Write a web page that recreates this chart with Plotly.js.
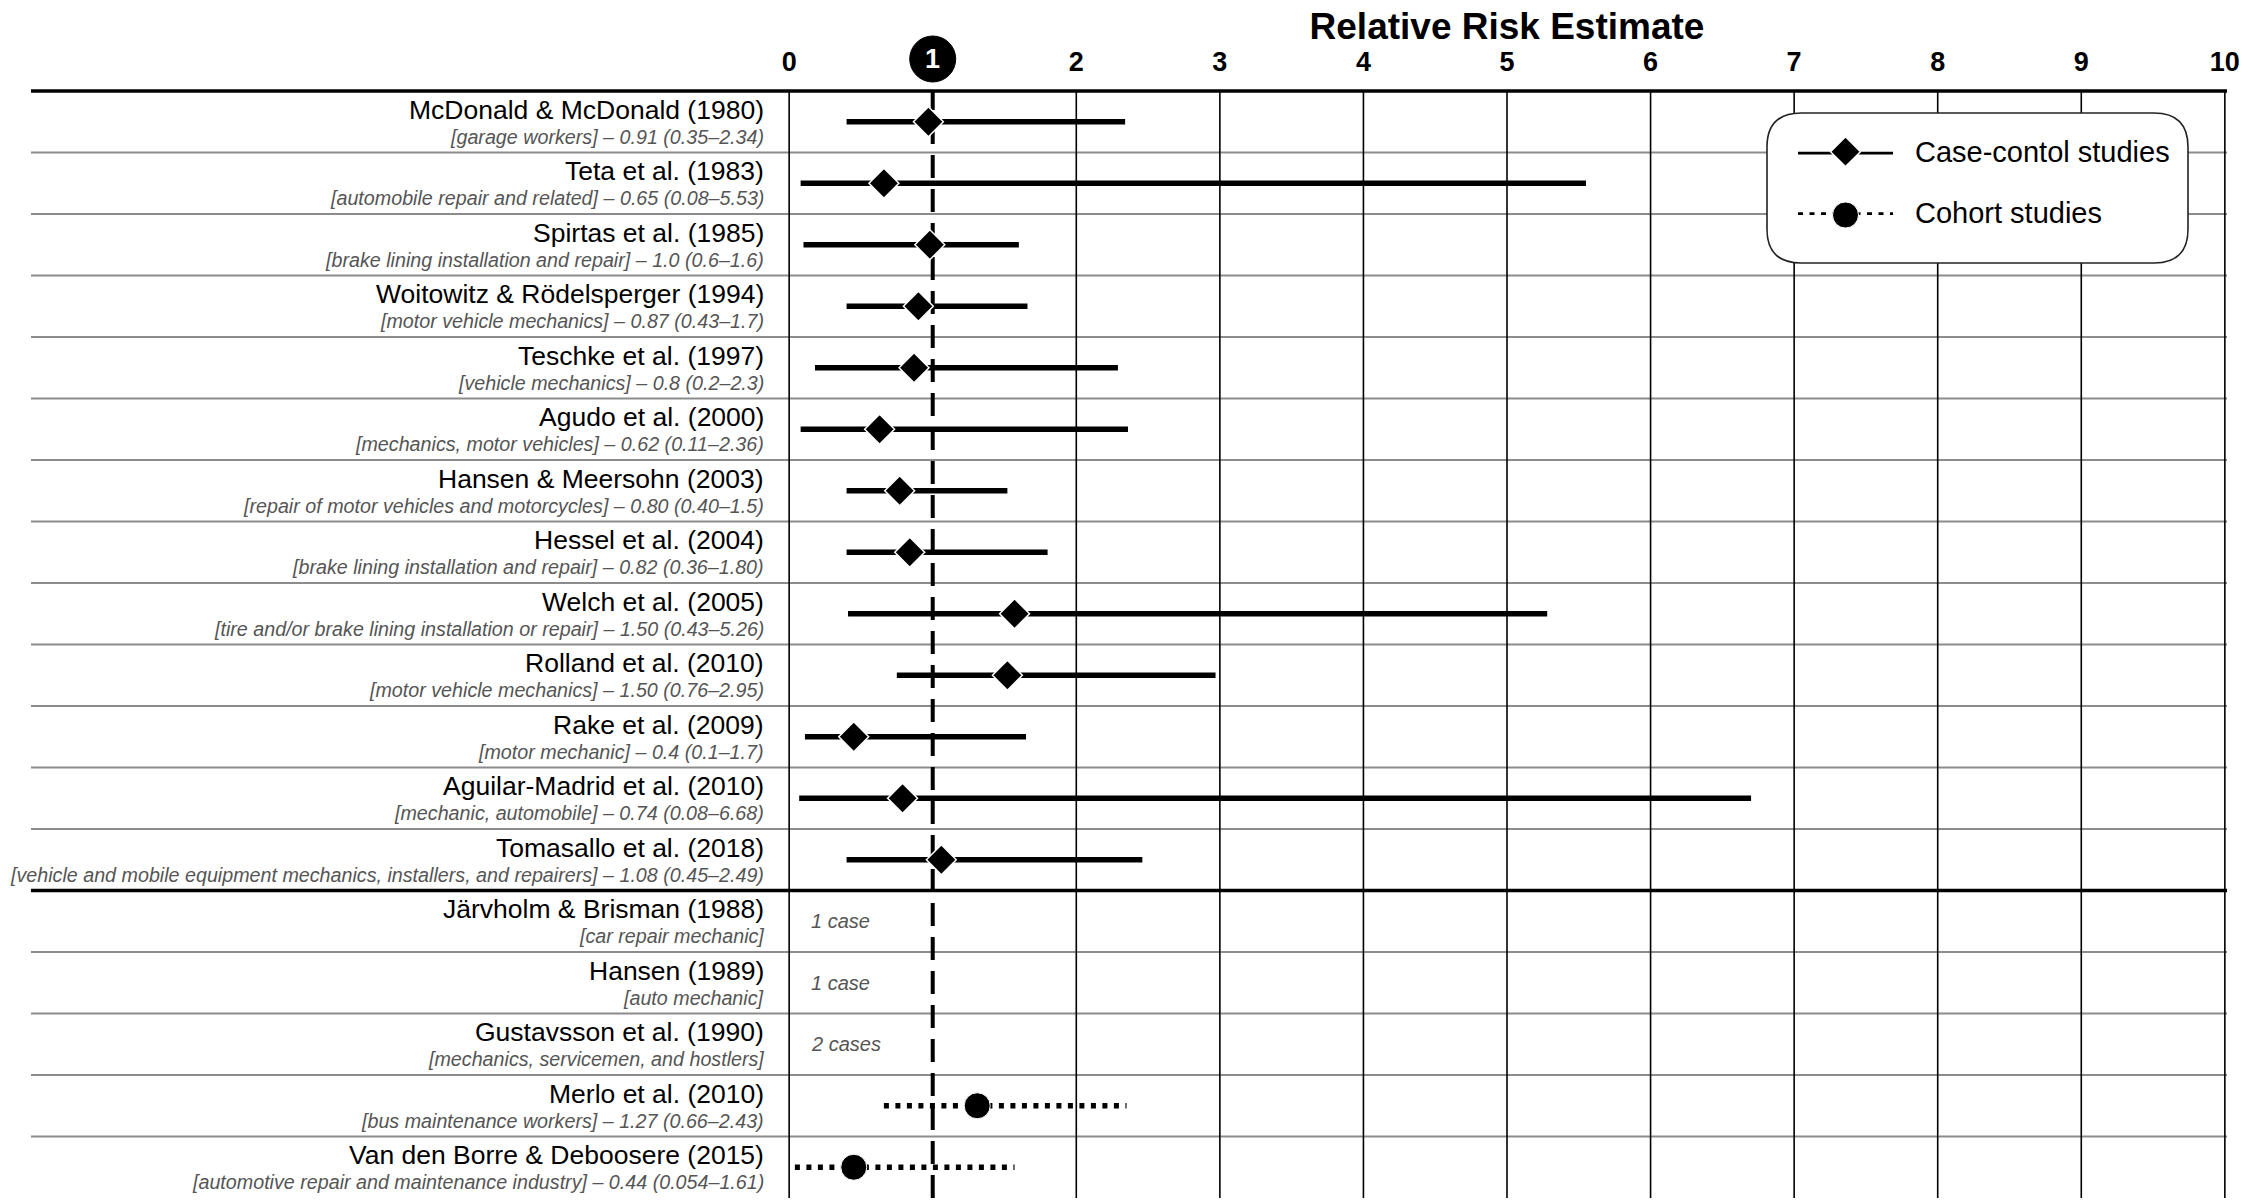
<!DOCTYPE html>
<html><head><meta charset="utf-8">
<script src="https://cdn.plot.ly/plotly-3.0.1.min.js"></script>
<style>html,body{margin:0;padding:0;background:#fff;overflow:hidden}</style>
</head><body><div id="chart" style="width:2267px;height:1200px"></div>
<script>
// ---------------- data ----------------
const studyNames = [
  "McDonald & McDonald (1980)",
  "Teta et al. (1983)",
  "Spirtas et al. (1985)",
  "Woitowitz & Rödelsperger (1994)",
  "Teschke et al. (1997)",
  "Agudo et al. (2000)",
  "Hansen & Meersohn (2003)",
  "Hessel et al. (2004)",
  "Welch et al. (2005)",
  "Rolland et al. (2010)",
  "Rake et al. (2009)",
  "Aguilar-Madrid et al. (2010)",
  "Tomasallo et al. (2018)",
  "Järvholm & Brisman (1988)",
  "Hansen (1989)",
  "Gustavsson et al. (1990)",
  "Merlo et al. (2010)",
  "Van den Borre & Deboosere (2015)"
];
const studyDetails = [
  "[garage workers] – 0.91 (0.35–2.34)",
  "[automobile repair and related] – 0.65 (0.08–5.53)",
  "[brake lining installation and repair] – 1.0 (0.6–1.6)",
  "[motor vehicle mechanics] – 0.87 (0.43–1.7)",
  "[vehicle mechanics] – 0.8 (0.2–2.3)",
  "[mechanics, motor vehicles] – 0.62 (0.11–2.36)",
  "[repair of motor vehicles and motorcycles] – 0.80 (0.40–1.5)",
  "[brake lining installation and repair] – 0.82 (0.36–1.80)",
  "[tire and/or brake lining installation or repair] – 1.50 (0.43–5.26)",
  "[motor vehicle mechanics] – 1.50 (0.76–2.95)",
  "[motor mechanic] – 0.4 (0.1–1.7)",
  "[mechanic, automobile] – 0.74 (0.08–6.68)",
  "[vehicle and mobile equipment mechanics, installers, and repairers] – 1.08 (0.45–2.49)",
  "[car repair mechanic]",
  "[auto mechanic]",
  "[mechanics, servicemen, and hostlers]",
  "[bus maintenance workers] – 1.27 (0.66–2.43)",
  "[automotive repair and maintenance industry] – 0.44 (0.054–1.61)"
];
// case-control studies (rows 0..12)
const ccRows  = [0, 1, 2, 3, 4, 5, 6, 7, 8, 9, 10, 11, 12];
const ccEst   = [0.97, 0.66, 0.98, 0.90, 0.87, 0.63, 0.77, 0.84, 1.57, 1.52, 0.45, 0.79, 1.06];
const ccLow   = [0.40, 0.08, 0.10, 0.40, 0.18, 0.08, 0.40, 0.40, 0.41, 0.75, 0.11, 0.07, 0.40];
const ccHigh  = [2.34, 5.55, 1.60, 1.66, 2.29, 2.36, 1.52, 1.80, 5.28, 2.97, 1.65, 6.70, 2.46];
// cohort studies
const cohortRows = [16, 17];
const cohortEst  = [1.31, 0.45];
const cohortLow  = [0.66, 0.04];
const cohortHigh = [2.35, 1.57];
// studies with only case counts
const noteRows = [13, 14, 15];
const noteText = ["1 case", "1 case", "2 cases"];
const noteX = 0.14;
// axis
const xTickVals = [0, 2, 3, 4, 5, 6, 7, 8, 9, 10];
const xTickText = ["0", "2", "3", "4", "5", "6", "7", "8", "9", "10"];
const refValue = 1;
const groupSplitAfterRow = 12;
const legendLabels = ["Case-contol studies", "Cohort studies"];

// ---------------- layout constants ----------------
const W = 2267, H = 1200;
const ML = 787, MR = 40, MT = 91, MB = 2;
const PW = W - ML - MR, PH = H - MT - MB;
const px2paperX = px => (px - ML) / PW;
const px2paperY = py => (H - MB - py) / PH;
const FONT = "Liberation Sans, Arial, Helvetica, sans-serif";
const nRows = studyNames.length;
const SOLID_W = 5.5, DOT_W = 5.5, DOT_DASH = "5px,6.5px";

// ---------------- traces ----------------
function segs(rows, lo, hi) {
  const x = [], y = [];
  rows.forEach((r, i) => { x.push(lo[i], hi[i], null); y.push(r, r, null); });
  return {x, y};
}
const ccSeg = segs(ccRows, ccLow, ccHigh);
const coSeg = segs(cohortRows, cohortLow, cohortHigh);

const traces = [
  {type: "scatter", mode: "lines", x: ccSeg.x, y: ccSeg.y, xaxis: "x", yaxis: "y",
   line: {color: "#000", width: SOLID_W}, hoverinfo: "skip", showlegend: false, cliponaxis: false},
  {type: "scatter", mode: "lines", x: coSeg.x, y: coSeg.y, xaxis: "x", yaxis: "y",
   line: {color: "#000", width: DOT_W, dash: DOT_DASH}, hoverinfo: "skip", showlegend: false, cliponaxis: false},
  {type: "scatter", mode: "markers", x: ccEst, y: ccRows, name: legendLabels[0],
   marker: {symbol: "diamond", size: 23, color: "#000", line: {color: "#fff", width: 1.5}},
   hoverinfo: "skip", showlegend: false, cliponaxis: false},
  {type: "scatter", mode: "markers", x: cohortEst, y: cohortRows, name: legendLabels[1],
   marker: {symbol: "circle", size: 26, color: "#000", line: {color: "#fff", width: 1}},
   hoverinfo: "skip", showlegend: false, cliponaxis: false},
  // legend samples (drawn in a small overlay subplot)
  {type: "scatter", mode: "lines", x: [0, 1], y: [1, 1], xaxis: "x2", yaxis: "y2",
   line: {color: "#000", width: SOLID_W}, hoverinfo: "skip", showlegend: false, cliponaxis: false},
  {type: "scatter", mode: "markers", x: [0.5], y: [1], xaxis: "x2", yaxis: "y2",
   marker: {symbol: "diamond", size: 23, color: "#000", line: {color: "#fff", width: 1.5}},
   hoverinfo: "skip", showlegend: false, cliponaxis: false},
  {type: "scatter", mode: "lines", x: [0, 1], y: [0, 0], xaxis: "x2", yaxis: "y2",
   line: {color: "#000", width: DOT_W, dash: DOT_DASH}, hoverinfo: "skip", showlegend: false, cliponaxis: false},
  {type: "scatter", mode: "markers", x: [0.5], y: [0], xaxis: "x2", yaxis: "y2",
   marker: {symbol: "circle", size: 26, color: "#000", line: {color: "#fff", width: 1}},
   hoverinfo: "skip", showlegend: false, cliponaxis: false}
];

// ---------------- shapes ----------------
const shapes = [];
const leftX = px2paperX(31);
// row separators
for (let r = 0; r < nRows - 1; r++) {
  const b = r + 0.5;
  const thick = (r === groupSplitAfterRow);
  shapes.push({type: "line", layer: "below", xref: "paper", yref: "y",
    x0: leftX, x1: 1, y0: b, y1: b,
    line: {color: thick ? "#000" : "#8c8c8c", width: thick ? 3.5 : 2}});
}
// top rule
shapes.push({type: "line", layer: "below", xref: "paper", yref: "paper",
  x0: leftX, x1: 1, y0: 1, y1: 1, line: {color: "#000", width: 3.5}});
// vertical grid
xTickVals.forEach(v => shapes.push({type: "line", layer: "below", xref: "x", yref: "paper",
  x0: v, x1: v, y0: 0, y1: 1, line: {color: "#000", width: 1.6}}));
// reference line at 1
shapes.push({type: "line", layer: "below", xref: "x", yref: "paper",
  x0: refValue, x1: refValue, y0: 0, y1: 1, line: {color: "#000", width: 4, dash: "23px,11px"}});
// circle behind the "1" tick label
shapes.push({type: "circle", layer: "below", xref: "x", yref: "paper",
  xsizemode: "pixel", ysizemode: "pixel", xanchor: refValue, yanchor: 1,
  x0: -23, x1: 23, y0: 9, y1: 55, fillcolor: "#000", line: {color: "#000", width: 1}});
// legend box (rounded rectangle)
(function () {
  const x0 = px2paperX(1767), x1 = px2paperX(2188);
  const yT = px2paperY(113), yB = px2paperY(263);
  const rx = 34 / PW, ry = 34 / PH;
  const p = `M ${x0 + rx},${yT} L ${x1 - rx},${yT} Q ${x1},${yT} ${x1},${yT - ry} ` +
            `L ${x1},${yB + ry} Q ${x1},${yB} ${x1 - rx},${yB} L ${x0 + rx},${yB} ` +
            `Q ${x0},${yB} ${x0},${yB + ry} L ${x0},${yT - ry} Q ${x0},${yT} ${x0 + rx},${yT} Z`;
  shapes.push({type: "path", layer: "below", xref: "paper", yref: "paper", path: p,
    fillcolor: "#fff", line: {color: "#222", width: 1.6}});
})();

// ---------------- annotations ----------------
const annotations = [];
const labelX = px2paperX(766);
studyNames.forEach((n, i) => {
  annotations.push({xref: "paper", yref: "y", x: labelX, y: i, xanchor: "right", yanchor: "middle",
    yshift: 12, showarrow: false, text: n, font: {family: FONT, size: 26.5, color: "#000"}});
  annotations.push({xref: "paper", yref: "y", x: labelX, y: i, xanchor: "right", yanchor: "middle",
    yshift: -15, showarrow: false, text: studyDetails[i],
    font: {family: FONT, size: 19.7, color: "#555", style: "italic"}});
});
noteRows.forEach((r, i) => annotations.push({xref: "x", yref: "y", x: noteX, y: r,
  xanchor: "left", yanchor: "middle", showarrow: false, text: noteText[i],
  font: {family: FONT, size: 20, color: "#555", style: "italic"}}));
// "1" label inside circle
annotations.push({xref: "x", yref: "paper", x: refValue, y: 1, yshift: 32, xanchor: "center",
  yanchor: "middle", showarrow: false, text: "<b>1</b>", font: {family: FONT, size: 27, color: "#fff"}});
// legend labels
legendLabels.forEach((t, i) => annotations.push({xref: "paper", yref: "paper",
  x: px2paperX(1913), y: px2paperY(i === 0 ? 151.7 : 213), xanchor: "left", yanchor: "middle",
  showarrow: false, text: t, font: {family: FONT, size: 29, color: "#000"}}));

// ---------------- layout ----------------
const layout = {
  width: W, height: H,
  margin: {l: ML, r: MR, t: MT, b: MB, pad: 0},
  paper_bgcolor: "#fff", plot_bgcolor: "rgba(0,0,0,0)",
  font: {family: FONT, color: "#000"},
  title: {text: "<b>Relative Risk Estimate</b>", font: {family: FONT, size: 37, color: "#000"},
    xref: "paper", x: 0.5, xanchor: "center", yref: "container", y: 1 - 26 / H, yanchor: "middle"},
  xaxis: {range: [-0.015, 10.015], side: "top", tickvals: xTickVals, ticktext: xTickText,
    tickfont: {family: FONT, size: 27, color: "#000", weight: "bold"}, ticks: "",
    ticklabelstandoff: 14, showgrid: false, zeroline: false, showline: false, fixedrange: true},
  yaxis: {range: [nRows - 0.5, -0.5], visible: false, showgrid: false, zeroline: false, fixedrange: true},
  xaxis2: {domain: [px2paperX(1798), px2paperX(1893)], range: [0, 1], anchor: "y2", visible: false, fixedrange: true},
  yaxis2: {domain: [px2paperY(215), px2paperY(151.7)], range: [0, 1], anchor: "x2", visible: false, fixedrange: true},
  shapes: shapes,
  annotations: annotations,
  showlegend: false,
  hovermode: false
};

Plotly.newPlot("chart", traces, layout, {displayModeBar: false, staticPlot: true});
</script>
</body></html>
